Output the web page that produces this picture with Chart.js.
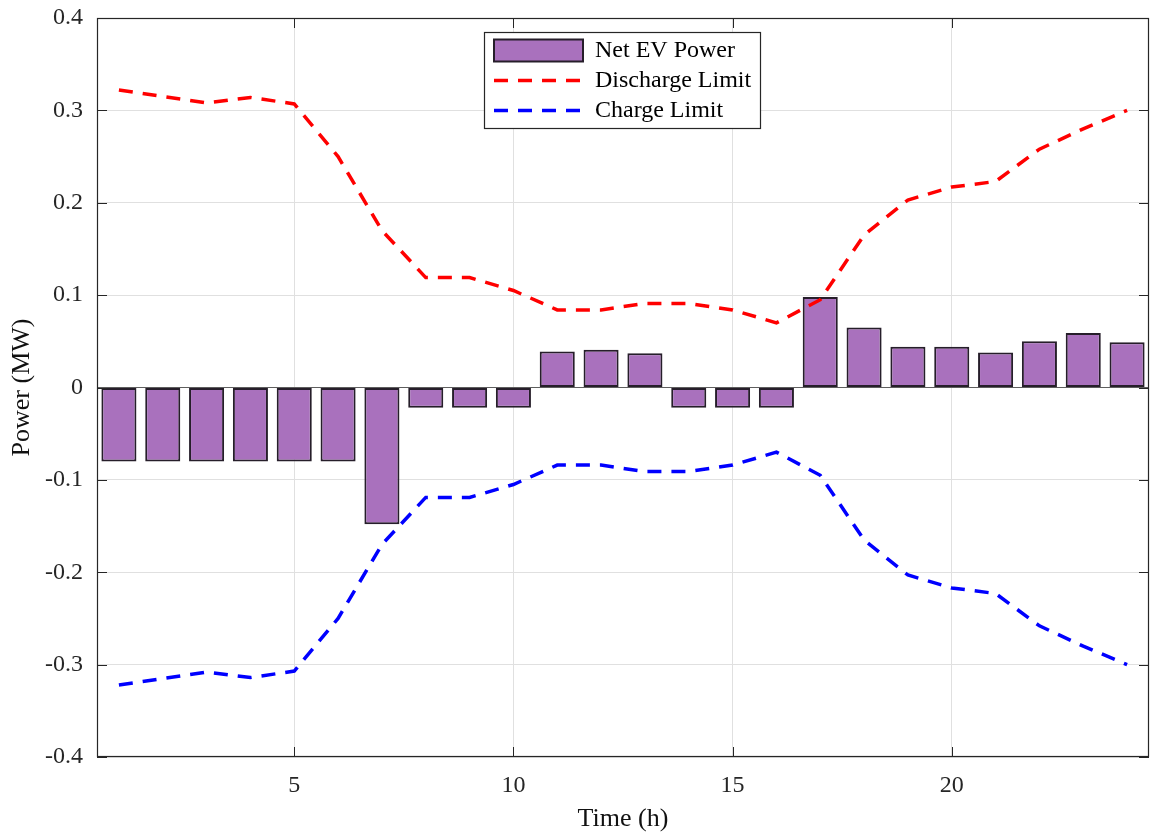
<!DOCTYPE html>
<html>
<head>
<meta charset="utf-8">
<script src="https://cdn.jsdelivr.net/npm/chart.js@4.4.0/dist/chart.umd.min.js"></script>
<style>
html,body{margin:0;padding:0;background:#ffffff;}
#wrap{width:1152px;height:835px;}
</style>
</head>
<body>
<div id="wrap"><canvas id="c" width="1152" height="835"></canvas></div>
<script>
// ---- data ----
const hours = [1,2,3,4,5,6,7,8,9,10,11,12,13,14,15,16,17,18,19,20,21,22,23,24];
const netEVPower = [-0.080,-0.080,-0.080,-0.080,-0.080,-0.080,-0.148,-0.022,-0.022,-0.022,0.039,0.041,0.037,-0.022,-0.022,-0.022,0.098,0.065,0.044,0.044,0.038,0.050,0.059,0.049];
const dischargeLimit = [0.322,0.315,0.308,0.314,0.307,0.250,0.170,0.119,0.119,0.105,0.084,0.084,0.091,0.091,0.084,0.070,0.095,0.165,0.203,0.217,0.223,0.258,0.280,0.300];
const chargeLimit = [-0.322,-0.315,-0.308,-0.314,-0.307,-0.250,-0.170,-0.119,-0.119,-0.105,-0.084,-0.084,-0.091,-0.091,-0.084,-0.070,-0.095,-0.165,-0.203,-0.217,-0.223,-0.258,-0.280,-0.300];
const xTicks = [5,10,15,20];
const yTicks = [-0.4,-0.3,-0.2,-0.1,0,0.1,0.2,0.3,0.4];
const seriesNames = ['Net EV Power','Discharge Limit','Charge Limit'];
const xTitle = 'Time (h)';
const yTitle = 'Power (MW)';

// ---- styles ----
const FONT = "'Liberation Serif','Times New Roman',serif";
const barFill = 'rgb(169,113,189)';
const barEdge = 'rgb(38,30,42)';
const dash = [14,10];
const axisColor = '#262626';
const gridColor = '#e0e0e0';
const legendBox = {left:484, top:32, right:761, bottom:129};

const toXY = ys => hours.map((h,i) => ({x:h, y:ys[i]}));
const fmtY = v => Math.abs(v) < 1e-9 ? '0' : Number(v).toFixed(1);

const framePlugin = {
  id: 'frame',
  afterUpdate(chart) {
    const L = chart.legend;
    if (!L) return;
    L.left = legendBox.left + 4;
    L.top = legendBox.top + 0.5;
    L.right = legendBox.right;
    L.bottom = legendBox.bottom + 10;
    L.width = L.right - L.left;
    L.height = L.bottom - L.top;
    if (L.adjustHitBoxes) L.adjustHitBoxes();
  },
  afterDraw(chart) {
    const {ctx, chartArea: a, scales: {x, y}} = chart;
    ctx.save();
    ctx.strokeStyle = axisColor;
    ctx.lineWidth = 1;
    ctx.setLineDash([]);
    ctx.beginPath();
    y.ticks.forEach(t => {
      const p = Math.round(y.getPixelForValue(t.value)) + 0.5;
      ctx.moveTo(a.left, p); ctx.lineTo(a.left + 10, p);
      ctx.moveTo(a.right, p); ctx.lineTo(a.right - 10, p);
    });
    x.ticks.forEach(t => {
      const p = Math.round(x.getPixelForValue(t.value)) + 0.5;
      ctx.moveTo(p, a.bottom); ctx.lineTo(p, a.bottom - 10);
      ctx.moveTo(p, a.top); ctx.lineTo(p, a.top + 10);
    });
    ctx.stroke();
    ctx.lineWidth = 1.2;
    ctx.strokeRect(Math.round(a.left) + 0.5, Math.round(a.top) + 0.5, Math.round(a.right - a.left) - 1, Math.round(a.bottom - a.top) - 1);
    // legend frame
    ctx.fillStyle = '#ffffff';
    ctx.fillRect(legendBox.left, legendBox.top, legendBox.right - legendBox.left, legendBox.bottom - legendBox.top);
    ctx.strokeStyle = axisColor;
    ctx.strokeRect(legendBox.left + 0.5, legendBox.top + 0.5, legendBox.right - legendBox.left - 1, legendBox.bottom - legendBox.top - 1);
    ctx.restore();
    if (chart.legend) chart.legend.draw(a);
  }
};

const chart = new Chart(document.getElementById('c').getContext('2d'), {
  type: 'bar',
  data: {
    datasets: [
      {
        type: 'bar',
        label: seriesNames[0],
        data: toXY(netEVPower),
        backgroundColor: barFill,
        borderColor: barEdge,
        borderWidth: 2,
        borderSkipped: false,
        categoryPercentage: 1.0,
        barPercentage: 0.8,
        order: 1
      },
      {
        type: 'line',
        label: seriesNames[1],
        data: toXY(dischargeLimit),
        borderColor: '#ff0000',
        backgroundColor: '#ff0000',
        borderWidth: 3.5,
        borderDash: dash,
        borderCapStyle: 'butt',
        pointRadius: 0,
        tension: 0,
        fill: false,
        order: 0
      },
      {
        type: 'line',
        label: seriesNames[2],
        data: toXY(chargeLimit),
        borderColor: '#0000ff',
        backgroundColor: '#0000ff',
        borderWidth: 3.5,
        borderDash: dash,
        borderCapStyle: 'butt',
        pointRadius: 0,
        tension: 0,
        fill: false,
        order: 0
      }
    ]
  },
  options: {
    responsive: false,
    animation: false,
    devicePixelRatio: 1,
    layout: {padding: {top: 18, right: 3, bottom: 0, left: 0}},
    scales: {
      x: {
        type: 'linear',
        min: 0.5,
        max: 24.5,
        offset: false,
        afterBuildTicks: s => { s.ticks = xTicks.map(v => ({value: v})); },
        afterFit: s => { s.height = 78; s.paddingLeft = 0; s.paddingRight = 0; },
        grid: {color: gridColor, drawTicks: false, lineWidth: 1, offset: false},
        border: {display: false},
        ticks: {font: {family: FONT, size: 24}, color: axisColor, padding: 14, maxRotation: 0, autoSkip: false},
        title: {display: true, text: xTitle, font: {family: FONT, size: 26}, color: '#111', padding: {top: 0, bottom: 0}}
      },
      y: {
        type: 'linear',
        min: -0.4,
        max: 0.4,
        afterBuildTicks: s => { s.ticks = yTicks.map(v => ({value: v})); },
        afterFit: s => { s.width = 97; s.paddingTop = 0; s.paddingBottom = 0; },
        grid: {
          color: c => (c.tick && Math.abs(c.tick.value) < 1e-9) ? '#5e5e5e' : gridColor,
          drawTicks: false, lineWidth: 1
        },
        border: {display: false},
        ticks: {font: {family: FONT, size: 24}, color: axisColor, padding: 14, callback: v => fmtY(v), autoSkip: false},
        title: {display: true, text: yTitle, font: {family: FONT, size: 26}, color: '#111', padding: {top: 7, bottom: 0}}
      }
    },
    plugins: {
      tooltip: {enabled: false},
      legend: {
        position: 'chartArea',
        align: 'start',
        labels: {
          usePointStyle: true,
          pointStyleWidth: 89,
          boxHeight: 22,
          padding: 6,
          font: {family: FONT, size: 24},
          color: '#000',
          generateLabels: ch => ch.data.datasets.map((d, i) => ({
            text: d.label,
            fillStyle: i === 0 ? barFill : 'rgba(0,0,0,0)',
            strokeStyle: d.borderColor,
            lineWidth: d.borderWidth,
            lineDash: d.borderDash || [],
            lineCap: 'butt',
            pointStyle: i === 0 ? 'rect' : 'line',
            fontColor: '#000',
            hidden: false,
            datasetIndex: i
          }))
        }
      }
    }
  },
  plugins: [framePlugin]
});
</script>
</body>
</html>
